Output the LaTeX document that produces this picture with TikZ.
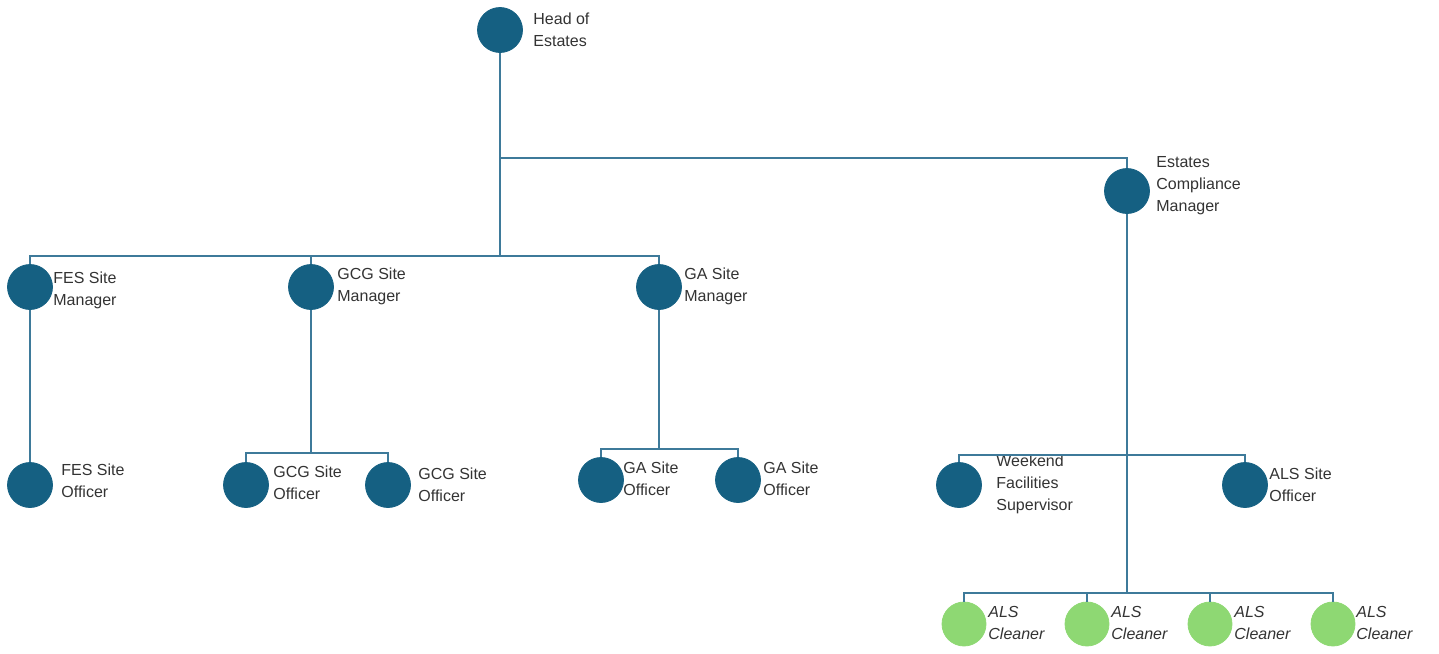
\documentclass[tikz,border=0pt]{standalone}
\usepackage{fontspec}
\setmainfont{Liberation Sans}
\definecolor{dblue}{HTML}{156082}
\definecolor{lgreen}{HTML}{8ED873}
\definecolor{lineblue}{HTML}{3E7A9A}
\definecolor{txt}{HTML}{333333}
\begin{document}
\begin{tikzpicture}[x=0.5pt,y=-0.5pt,
  person/.style={circle,fill=dblue,draw=dblue,line width=0.4pt,minimum size=22.5pt,inner sep=0pt},
  cleaner/.style={circle,fill=lgreen,draw=lgreen,line width=0.4pt,minimum size=22pt,inner sep=0pt},
  lbl/.style={anchor=west,align=left,inner sep=0pt,text=txt,font=\fontsize{8}{11}\selectfont},
  ilbl/.style={lbl,font=\fontsize{8}{11}\selectfont\itshape},
  conn/.style={draw=lineblue,line width=0.8pt}]
\useasboundingbox (0,0) rectangle (1439,653);
% people
\node[person] (head) at (500,30) {};
\node[lbl] (headT) at (533,30) {Head of\\Estates};
\node[person] (ecm) at (1127,191) {};
\node[lbl] (ecmT) at (1156,186) {Estates\\Compliance\\Manager};
\node[person] (fesm) at (30,287) {};
\node[lbl] (fesmT) at (53,290) {FES Site\\Manager};
\node[person] (gcgm) at (311,287) {};
\node[lbl] (gcgmT) at (337,286) {GCG Site\\Manager};
\node[person] (gam) at (659,287) {};
\node[lbl] (gamT) at (684,286) {GA Site\\Manager};
\node[person] (feso) at (30,485) {};
\node[lbl] (fesoT) at (61,481) {FES Site\\Officer};
\node[person] (gcgo1) at (246,485) {};
\node[lbl] (gcgo1T) at (273,483) {GCG Site\\Officer};
\node[person] (gcgo2) at (388,485) {};
\node[lbl] (gcgo2T) at (418,485) {GCG Site\\Officer};
\node[person] (gao1) at (601,480) {};
\node[lbl] (gao1T) at (623,479) {GA Site\\Officer};
\node[person] (gao2) at (738,480) {};
\node[lbl] (gao2T) at (763,479) {GA Site\\Officer};
\node[person] (wfs) at (959,485) {};
\node[lbl] (wfsT) at (996,484) {Weekend\\Facilities\\Supervisor};
\node[person] (als) at (1245,485) {};
\node[lbl] (alsT) at (1269,485) {ALS Site\\Officer};
\node[cleaner] (c1) at (964,624) {};
\node[ilbl] (c1T) at (988,623) {ALS\\Cleaner};
\node[cleaner] (c2) at (1087,624) {};
\node[ilbl] (c2T) at (1111,623) {ALS\\Cleaner};
\node[cleaner] (c3) at (1210,624) {};
\node[ilbl] (c3T) at (1234,623) {ALS\\Cleaner};
\node[cleaner] (c4) at (1333,624) {};
\node[ilbl] (c4T) at (1356,623) {ALS\\Cleaner};
% bus levels
\coordinate (ebus) at (0,158);
\coordinate (mbus) at (0,256);
\coordinate (gcgbus) at (0,453);
\coordinate (gabus) at (0,449);
\coordinate (sbus) at (0,455);
\coordinate (cbus) at (0,593);
% connectors
\draw[conn] (head.south) -- (head.south |- mbus);
\draw[conn] (head.south |- ebus) -| (ecm.north);
\draw[conn] (fesm.north) -- (fesm.north |- mbus) -- (gam.north |- mbus) -- (gam.north);
\draw[conn] (gcgm.north) -- (gcgm.north |- mbus);
\draw[conn] (fesm.south) -- (feso.north);
\draw[conn] (gcgm.south) -- (gcgm.south |- gcgbus);
\draw[conn] (gcgo1.north) -- (gcgo1.north |- gcgbus) -- (gcgo2.north |- gcgbus) -- (gcgo2.north);
\draw[conn] (gam.south) -- (gam.south |- gabus);
\draw[conn] (gao1.north) -- (gao1.north |- gabus) -- (gao2.north |- gabus) -- (gao2.north);
\draw[conn] (ecm.south) -- (ecm.south |- cbus);
\draw[conn] (wfs.north) -- (wfs.north |- sbus) -- (als.north |- sbus) -- (als.north);
\draw[conn] (c1.north) -- (c1.north |- cbus) -- (c4.north |- cbus) -- (c4.north);
\draw[conn] (c2.north) -- (c2.north |- cbus);
\draw[conn] (c3.north) -- (c3.north |- cbus);
\end{tikzpicture}
\end{document}
